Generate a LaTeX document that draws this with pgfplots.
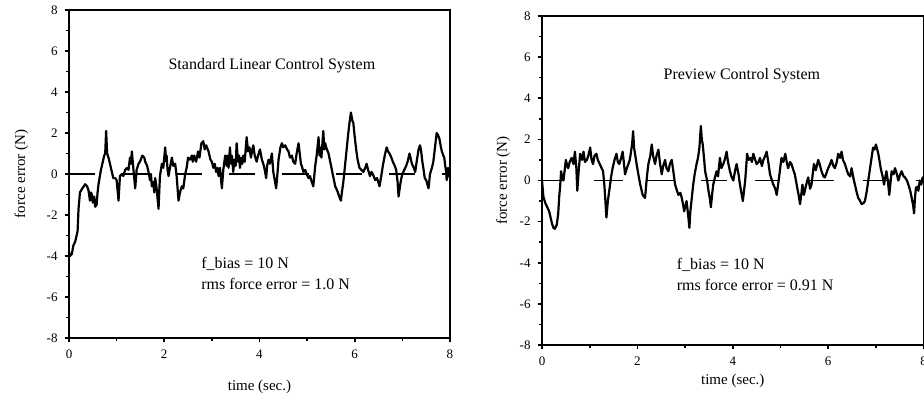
\documentclass[border=0pt]{standalone}
\usepackage{fontspec}
\setmainfont{Liberation Serif}
\usepackage{pgfplots}
\pgfplotsset{compat=1.18}

% shared look of both panels (1 px of the reference = 0.5pt)
\pgfplotsset{panel/.style={
  scale only axis, width=190.5pt, height=164pt,
  xmin=0, xmax=8, ymin=-8, ymax=8,
  xtick={0,2,4,6,8}, xticklabels={0,2,4,6,8},
  ytick={-8,-6,-4,-2,0,2,4,6,8}, yticklabels={-8,-6,-4,-2,0,2,4,6,8},
  minor tick num=1, tick align=outside, tick pos=left,
  major tick length=2.2pt, minor tick length=1.4pt,
  tick style={line width=0.8pt, black},
  axis line style={line width=0.95pt},
  tick label style={font=\fontsize{6.5}{7.5}\selectfont},
  label style={font=\fontsize{7.5}{9}\selectfont},
  xlabel={time (sec.)}, ylabel={force error (N)},
  unbounded coords=jump,
}}
\tikzset{trace/.style={black, line width=1.1pt, line join=round},
  zero/.style={black, line width=0.65pt},
  txt/.style={font=\fontsize{8}{9.6}\selectfont}}

\begin{document}
\begin{tikzpicture}
\useasboundingbox (0,0) rectangle (462pt,200pt);

% ---- left: standard linear control
\begin{axis}[panel, at={(34.5pt,31pt)}, anchor=south west,
  xlabel style={at={(axis description cs:0.5,-0.149)}, anchor=center},
  ylabel style={at={(axis description cs:-0.125,0.5)}, anchor=center}]
\addplot[zero] coordinates {(0,0) (0.55,0) (0.6,nan) (1.12,0) (1.67,0) (1.7,nan)
  (2.24,0) (2.79,0) (2.8,nan) (3.36,0) (3.91,0) (3.95,nan) (4.48,0) (5.03,0) (5.1,nan)
  (5.6,0) (6.15,0) (6.2,nan) (6.72,0) (7.27,0) (7.3,nan) (7.84,0) (8,0)};
\addplot[trace] coordinates {
 (0,-3.8) (0.02,-4.0) (0.06,-3.9) (0.09,-3.5) (0.13,-3.3) (0.16,-3.0) (0.18,-2.8)
 (0.2,-1.7) (0.23,-0.9) (0.28,-0.7) (0.34,-0.5) (0.38,-0.6) (0.41,-0.8) (0.44,-1.3)
 (0.46,-0.9) (0.48,-1.0) (0.5,-1.4) (0.53,-1.1) (0.55,-1.6) (0.58,-1.5) (0.6,-0.9)
 (0.62,-0.5) (0.67,0.2) (0.72,0.7) (0.74,0.9) (0.76,1.0) (0.78,2.1) (0.8,1.0)
 (0.83,0.8) (0.86,0.5) (0.9,0.1) (0.93,-0.2) (0.97,-0.2) (1.0,-0.3) (1.04,-1.3)
 (1.07,-0.1) (1.11,0.0) (1.14,-0.1) (1.18,0.2) (1.22,0.3) (1.25,0.2) (1.28,0.8)
 (1.3,0.5) (1.32,1.1) (1.35,0.3) (1.39,-0.7) (1.42,0.2) (1.46,0.5) (1.49,0.6)
 (1.54,0.9) (1.58,0.8) (1.6,0.6) (1.64,0.4) (1.67,0.1) (1.7,-0.3) (1.72,0.0)
 (1.74,-0.6) (1.77,-0.4) (1.79,-0.9) (1.81,-0.2) (1.84,-0.7) (1.86,-1.2) (1.88,-1.7)
 (1.9,-0.6) (1.91,-0.1) (1.95,0.5) (1.98,0.3) (2.02,1.3) (2.04,0.6) (2.05,0.9)
 (2.07,0.2) (2.09,-0.1) (2.12,0.3) (2.16,0.8) (2.19,0.4) (2.23,0.5) (2.26,-0.1)
 (2.3,-1.3) (2.33,-0.9) (2.37,-0.6) (2.4,-0.7) (2.44,0.0) (2.47,0.3) (2.5,0.8)
 (2.54,0.7) (2.58,0.9) (2.6,0.6) (2.63,0.9) (2.67,0.6) (2.71,1.1) (2.74,0.8)
 (2.78,1.5) (2.82,1.6) (2.85,1.2) (2.88,1.4) (2.93,1.1) (2.97,0.7) (3.0,0.6)
 (3.03,0.3) (3.06,0.5) (3.09,0.1) (3.12,0.3) (3.14,-0.1) (3.17,0.3) (3.21,-0.7)
 (3.24,0.2) (3.28,0.9) (3.31,0.4) (3.33,0.9) (3.35,0.3) (3.38,1.3) (3.4,0.5)
 (3.42,0.9) (3.45,0.1) (3.47,0.7) (3.5,0.4) (3.52,1.5) (3.55,0.6) (3.57,0.9)
 (3.59,0.3) (3.62,0.8) (3.64,0.5) (3.66,0.9) (3.69,0.6) (3.71,1.2) (3.73,1.8)
 (3.76,1.1) (3.79,1.3) (3.82,0.8) (3.85,1.2) (3.87,1.4) (3.9,0.9) (3.94,0.6)
 (3.97,0.9) (4.01,1.2) (4.05,0.7) (4.08,0.5) (4.11,0.2) (4.14,-0.2) (4.16,0.4)
 (4.19,0.7) (4.22,0.5) (4.26,1.0) (4.29,0.1) (4.32,-0.3) (4.35,-0.7) (4.38,0.1)
 (4.4,0.7) (4.44,1.3) (4.47,1.5) (4.5,1.3) (4.54,1.4) (4.58,1.2) (4.61,1.1)
 (4.64,0.8) (4.68,0.9) (4.71,0.6) (4.75,0.5) (4.78,1.0) (4.82,1.5) (4.85,0.9)
 (4.87,0.5) (4.9,0.3) (4.92,0.1) (4.96,0.2) (4.99,0.0) (5.03,-0.2) (5.06,-0.1)
 (5.1,-0.4) (5.13,-0.6) (5.17,0.4) (5.2,0.9) (5.24,1.8) (5.26,0.9) (5.28,1.3)
 (5.3,0.8) (5.34,2.1) (5.36,1.2) (5.38,1.5) (5.4,1.3) (5.45,1.0) (5.52,0.2)
 (5.59,-0.6) (5.63,-0.8) (5.66,-1.0) (5.69,-1.2) (5.71,-1.3) (5.73,-0.9) (5.76,-0.4)
 (5.8,0.5) (5.83,1.2) (5.86,1.9) (5.89,2.5) (5.92,3.0) (5.95,2.6) (5.97,2.5)
 (6.0,1.8) (6.03,1.2) (6.06,0.7) (6.1,0.3) (6.14,0.2) (6.18,0.1) (6.22,0.3)
 (6.25,0.5) (6.28,0.2) (6.32,-0.1) (6.35,0.1) (6.38,0.0) (6.43,-0.3) (6.47,-0.2)
 (6.52,-0.6) (6.55,-0.2) (6.59,0.4) (6.63,0.9) (6.67,1.3) (6.7,1.1) (6.73,1.0)
 (6.77,0.8) (6.8,0.6) (6.84,0.4) (6.87,0.2) (6.9,-0.4) (6.92,-1.1) (6.95,-0.6)
 (6.97,-0.3) (7.0,0.0) (7.04,0.2) (7.08,0.4) (7.11,0.6) (7.15,1.0) (7.18,0.7)
 (7.2,0.5) (7.24,0.3) (7.27,0.1) (7.3,0.6) (7.34,1.2) (7.37,1.4) (7.39,1.2)
 (7.42,0.6) (7.44,0.3) (7.47,-0.2) (7.5,-0.3) (7.55,-0.7) (7.58,0.0) (7.62,0.3)
 (7.65,0.6) (7.69,1.4) (7.72,2.0) (7.75,1.9) (7.78,1.7) (7.81,1.3) (7.83,1.1)
 (7.86,0.9) (7.88,0.8) (7.9,0.4) (7.92,0.1) (7.93,-0.3) (7.96,0.3) (7.98,0.0) (8.0,-0.2)};
\node[txt] at (axis cs:4.26,5.27) {Standard Linear Control System};
\node[txt, anchor=west] at (axis cs:2.63,-4.4) {f\_bias = 10 N};
\node[txt, anchor=west] at (axis cs:2.63,-5.35) {rms force error = 1.0 N};
\end{axis}

% ---- right: preview control
\begin{axis}[panel, at={(271pt,27.5pt)}, anchor=south west, width=190.8pt, height=164.5pt,
  xlabel style={at={(axis description cs:0.5,-0.11)}, anchor=center},
  ylabel style={at={(axis description cs:-0.102,0.5)}, anchor=center}]
\addplot[zero] coordinates {(0,0) (0.47,0) (0.6,nan) (1.1,0) (1.7,0) (1.75,nan)
  (2.2,0) (2.76,0) (2.8,nan) (3.34,0) (3.87,0) (3.9,nan) (4.46,0) (4.99,0) (5.05,nan)
  (5.6,0) (6.13,0) (6.2,nan) (6.73,0) (7.29,0) (7.35,nan) (7.85,0) (8,0)};
\addplot[trace] coordinates {
 (0,0.0) (0.03,-0.8) (0.07,-1.1) (0.11,-1.3) (0.15,-1.5) (0.18,-1.8) (0.21,-2.1)
 (0.24,-2.3) (0.27,-2.35) (0.31,-2.15) (0.34,-1.6) (0.36,-0.8) (0.38,-0.3) (0.4,0.45)
 (0.42,0.2) (0.45,0.0) (0.5,1.0) (0.53,0.7) (0.55,0.6) (0.58,0.9) (0.62,1.1)
 (0.66,0.8) (0.69,1.4) (0.72,0.6) (0.74,-0.5) (0.77,0.5) (0.8,1.3) (0.84,1.0)
 (0.87,1.4) (0.9,0.9) (0.94,1.0) (0.97,1.2) (1.01,1.6) (1.04,1.0) (1.07,0.8)
 (1.1,1.2) (1.14,1.3) (1.17,1.0) (1.21,0.8) (1.25,0.6) (1.28,0.45) (1.31,-0.3)
 (1.35,-1.8) (1.38,-1.0) (1.41,-0.5) (1.45,0.2) (1.48,0.6) (1.52,1.0) (1.56,1.3)
 (1.59,0.9) (1.62,0.8) (1.66,1.1) (1.69,1.4) (1.72,0.8) (1.74,0.3) (1.78,0.6)
 (1.81,0.8) (1.84,1.0) (1.86,1.3) (1.89,1.8) (1.91,2.4) (1.93,1.6) (1.95,1.3)
 (1.99,0.7) (2.02,0.3) (2.06,-0.2) (2.11,-0.7) (2.16,-0.85) (2.2,0.2) (2.23,0.8)
 (2.27,1.2) (2.3,1.75) (2.33,1.2) (2.37,0.8) (2.4,1.2) (2.44,1.5) (2.47,0.9)
 (2.51,0.3) (2.54,0.7) (2.58,1.0) (2.61,0.6) (2.65,0.45) (2.68,0.8) (2.72,1.0)
 (2.75,0.5) (2.79,-0.2) (2.83,-0.5) (2.86,-0.7) (2.9,-0.6) (2.93,-0.85) (2.96,-1.2)
 (2.98,-1.5) (3.01,-1.2) (3.03,-1.0) (3.06,-1.6) (3.09,-2.3) (3.11,-1.5) (3.14,-0.85)
 (3.17,-0.2) (3.2,0.3) (3.24,0.8) (3.27,1.1) (3.3,1.6) (3.33,2.65) (3.35,2.0)
 (3.37,1.75) (3.4,1.0) (3.42,0.45) (3.46,0.0) (3.49,-0.5) (3.52,-0.9) (3.54,-1.3)
 (3.57,-0.6) (3.59,-0.2) (3.62,0.1) (3.66,0.45) (3.69,0.2) (3.73,1.1) (3.76,0.6)
 (3.8,0.8) (3.83,1.0) (3.87,1.4) (3.9,0.9) (3.94,0.45) (3.97,0.2) (4.01,0.0)
 (4.05,0.5) (4.08,0.8) (4.12,0.3) (4.15,-0.2) (4.18,-0.6) (4.21,-1.0) (4.24,-0.4)
 (4.26,0.0) (4.3,1.3) (4.33,1.0) (4.37,1.1) (4.4,0.9) (4.43,1.3) (4.47,1.0)
 (4.5,0.8) (4.54,0.9) (4.57,1.1) (4.61,0.7) (4.64,1.0) (4.68,1.2) (4.71,1.4)
 (4.75,0.8) (4.78,0.3) (4.82,0.0) (4.85,-0.2) (4.89,-0.4) (4.92,-0.7) (4.95,-0.2)
 (4.97,0.15) (5.02,1.1) (5.06,0.9) (5.1,1.3) (5.13,0.9) (5.16,0.6) (5.2,0.9)
 (5.23,0.8) (5.27,0.5) (5.3,0.3) (5.35,-0.35) (5.38,-0.7) (5.41,-1.15) (5.44,-0.6)
 (5.46,-0.2) (5.49,-0.7) (5.51,-0.5) (5.55,-0.1) (5.58,0.15) (5.62,-0.4) (5.65,-0.2)
 (5.7,0.8) (5.74,0.5) (5.79,1.0) (5.82,0.8) (5.86,0.45) (5.9,0.2) (5.93,0.15)
 (5.97,0.4) (6.0,0.6) (6.04,0.8) (6.07,1.0) (6.11,0.7) (6.14,0.6) (6.18,0.9)
 (6.21,1.3) (6.25,1.1) (6.28,1.4) (6.31,1.0) (6.35,0.8) (6.39,0.5) (6.42,0.3)
 (6.46,0.2) (6.49,0.6) (6.53,0.1) (6.56,-0.2) (6.6,-0.6) (6.63,-0.85) (6.67,-1.0)
 (6.7,-1.15) (6.74,-1.1) (6.77,-1.0) (6.81,-0.5) (6.84,0.0) (6.89,0.8) (6.94,1.6)
 (6.97,1.5) (7.0,1.75) (7.03,1.5) (7.05,1.3) (7.08,0.9) (7.1,0.6) (7.14,0.2)
 (7.17,-0.2) (7.2,0.2) (7.22,0.45) (7.25,0.0) (7.28,-0.7) (7.31,0.0) (7.33,0.45)
 (7.37,0.3) (7.4,0.6) (7.44,0.3) (7.47,0.0) (7.51,0.3) (7.54,0.45) (7.58,0.2)
 (7.61,0.15) (7.65,0.0) (7.68,-0.2) (7.72,-0.5) (7.75,-0.85) (7.78,-1.2) (7.8,-1.6)
 (7.82,-0.8) (7.84,-0.35) (7.87,-0.3) (7.89,-0.5) (7.92,0.0) (7.95,-0.2) (7.98,0.15) (8.0,0.0)};
\node[txt] at (axis cs:4.19,5.1) {Preview Control System};
\node[txt, anchor=west] at (axis cs:2.68,-4.1) {f\_bias = 10 N};
\node[txt, anchor=west] at (axis cs:2.68,-5.1) {rms force error = 0.91 N};
\end{axis}
\end{tikzpicture}
\end{document}
